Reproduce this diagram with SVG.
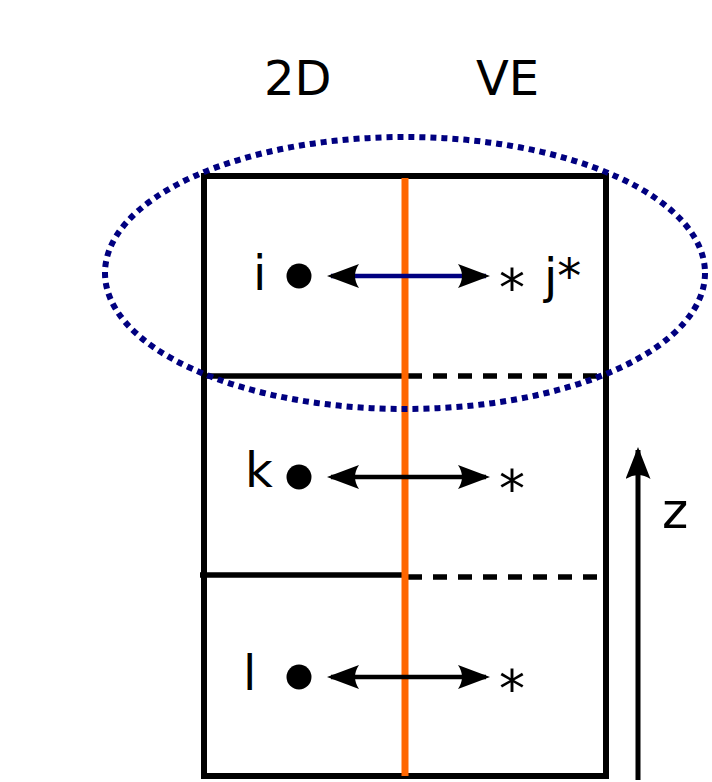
<svg xmlns="http://www.w3.org/2000/svg" width="712" height="782" viewBox="0 0 712 782">
<defs>
<marker id="ah" viewBox="0 0 32 24" refX="28" refY="12" markerWidth="32" markerHeight="24" markerUnits="userSpaceOnUse" orient="auto-start-reverse">
<path d="M0,0 L32,12 L0,24 Q8,12 0,0 Z" fill="#000"/>
</marker>
<marker id="ahz" viewBox="0 0 32 25" refX="29" refY="12.5" markerWidth="32" markerHeight="25" markerUnits="userSpaceOnUse" orient="auto">
<path d="M0,0 L32,12.5 L0,25 Q8,12.5 0,0 Z" fill="#000"/>
</marker>
</defs>
<style>
text{font-family:"DejaVu Sans","Liberation Sans",sans-serif;fill:#000}
.lbl{font-size:48px}
.ast{font-size:52px}
.solid{stroke:#000;stroke-width:5.5;fill:none}
.dash{stroke:#000;stroke-width:5.5;fill:none;stroke-dasharray:14,11}
.arr{stroke-width:4.5;fill:none}
</style>
<g id="headers">
<text class="lbl" x="264" y="95">2D</text>
<text class="lbl" x="476" y="95">VE</text>
</g>
<g id="column">
<rect x="204" y="176" width="402" height="600" stroke="#000" stroke-width="6" fill="none"/>
<line x1="204" y1="376" x2="405" y2="376" class="solid"/>
<line x1="408" y1="376" x2="600" y2="376" class="dash"/>
<line x1="200" y1="575" x2="402" y2="575" class="solid"/>
<line x1="408" y1="577" x2="600" y2="577" class="dash"/>
<line x1="405" y1="178" x2="405" y2="776" stroke="#ff6600" stroke-width="7"/>
</g>
<g id="row-i">
<text class="lbl" x="253" y="290">i</text>
<circle cx="299" cy="276" r="12.5" fill="#000"/>
<text class="ast" x="499" y="306">*</text>
<text class="lbl" x="544" y="293">j*</text>
</g>
<g id="row-k">
<text class="lbl" x="245" y="487">k</text>
<circle cx="299" cy="477" r="12.5" fill="#000"/>
<text class="ast" x="499" y="507">*</text>
</g>
<g id="row-l">
<text class="lbl" x="243" y="690">l</text>
<circle cx="299" cy="677" r="12.5" fill="#000"/>
<text class="ast" x="499" y="707">*</text>
</g>
<g id="connectors">
<line x1="331" y1="276" x2="486" y2="276" class="arr" stroke="#000080" marker-start="url(#ah)" marker-end="url(#ah)"/>
<line x1="331" y1="477" x2="486" y2="477" class="arr" stroke="#000" marker-start="url(#ah)" marker-end="url(#ah)"/>
<line x1="331" y1="677" x2="486" y2="677" class="arr" stroke="#000" marker-start="url(#ah)" marker-end="url(#ah)"/>
</g>
<g id="z-axis">
<line x1="638" y1="780" x2="638" y2="450" stroke="#000" stroke-width="5" marker-end="url(#ahz)"/>
<text x="662" y="528" font-size="50">z</text>
</g>
<g id="highlight">
<ellipse cx="405" cy="273" rx="300" ry="136" fill="none" stroke="#000080" stroke-width="6" stroke-dasharray="6,5"/>
</g>
</svg>
